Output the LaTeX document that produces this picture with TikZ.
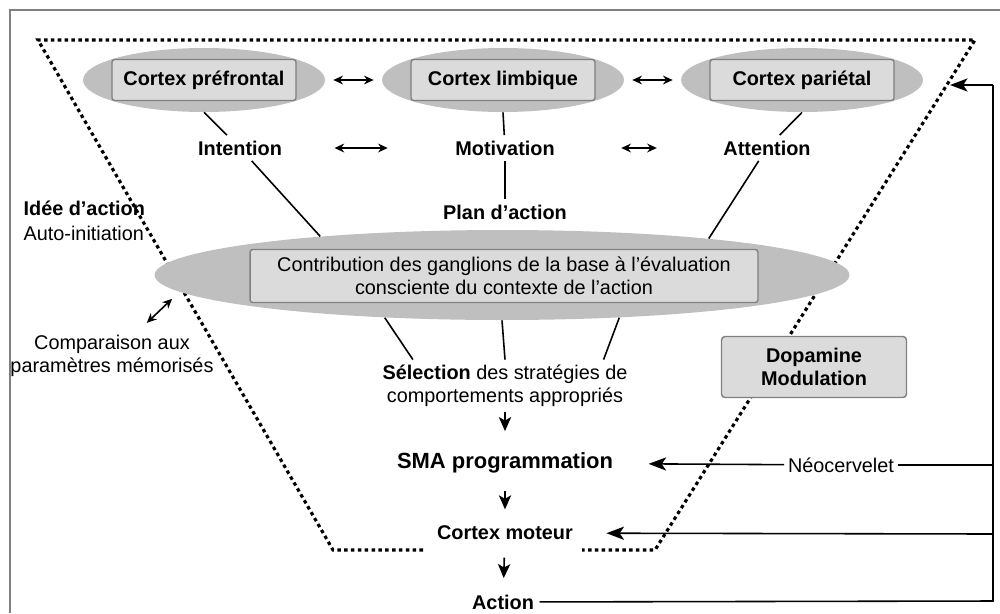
\documentclass[tikz,border=0pt]{standalone}
\usepackage{fontspec}
\setmainfont{Liberation Sans}
\usetikzlibrary{shapes.geometric,arrows.meta,positioning}

\newcommand{\basefont}{\fontsize{11.3}{13}\selectfont}
\tikzset{
  blob/.style={ellipse, fill=gray!50, inner sep=0pt},
  cortexbox/.style={draw=gray, fill=gray!28, inner sep=0pt, line width=0.8pt, rounded corners=1.5pt},
  lbl/.style={font=\basefont\bfseries, inner sep=3pt},
  txt/.style={font=\basefont, align=center, inner sep=3pt},
  link/.style={line width=0.9pt},
  flow/.style={line width=0.9pt, -{Stealth[length=10pt,width=7.5pt,inset=2.5pt]}},
  descend/.style={line width=0.9pt, -{Stealth[length=8pt,width=7pt,inset=2pt]}, shorten <=0.24cm, shorten >=0.22cm},
  twoway/.style={line width=0.9pt, {Stealth[length=5.5pt,width=5pt]}-{Stealth[length=5.5pt,width=5pt]}},
  frontier/.style={line width=1.8pt, dash pattern=on 2pt off 1.9pt},
}

\begin{document}
\begin{tikzpicture}[x=0.02cm, y=-0.02cm, font=\basefont]
  \useasboundingbox (0,0) rectangle (1000,613);
  % cadre
  \draw[gray, line width=1pt] (10,613) -- (10,10) -- (1000,10);
  % limite pointillee
  \draw[frontier] (423,550) -- (333,550) -- (38,40) -- (975,40) -- (655,550) -- (582,550);

  % aires corticales
  \foreach \x/\name/\txt in {204/pf/Cortex préfrontal, 503/lb/Cortex limbique, 802/pa/Cortex pariétal} {
    \node[blob, minimum width=4.84cm, minimum height=1.28cm] (e\name) at (\x,80) {};
    \node[cortexbox, font=\basefont\bfseries, minimum width=3.68cm, minimum height=0.82cm] (\name) at (\x,80) {\txt};
  }
  \draw[twoway, shorten <=0.16cm, shorten >=0.16cm] (epf) -- (elb);
  \draw[twoway, shorten <=0.16cm, shorten >=0.16cm] (elb) -- (epa);

  \node[lbl] (int) at (240,148) {Intention};
  \node[lbl] (mot) at (505,148) {Motivation};
  \node[lbl] (att) at (767,148) {Attention};
  \draw[twoway, shorten <=0.94cm, shorten >=1.24cm] (int) -- (mot);
  \draw[twoway, shorten <=1.22cm, shorten >=1.22cm] (mot) -- (att);

  \node[lbl] (plan) at (505,212) {Plan d’action};

  % ganglions de la base
  \node[blob, minimum width=13.9cm, minimum height=1.8cm] (bge) at (502,275) {};
  \node[cortexbox, align=center, minimum width=10.16cm, minimum height=1.06cm] (contrib) at (504,276)
    {Contribution des ganglions de la base à l’évaluation\\consciente du contexte de l’action};

  \draw[link] (epf.south) -- (int);
  \draw[link] (int) -- (bge.168);
  \draw[link] (elb.south) -- (mot);
  \draw[link] (mot) -- (plan);
  \draw[link] (epa.south) -- (att);
  \draw[link] (att) -- (bge.10);

  % partie gauche
  \node[lbl, anchor=west] (idee) at (18,208) {Idée d’action};
  \node[txt, anchor=west] (auto) at (18,233) {Auto-initiation};
  \node[txt] (comp) at (112,356) {Comparaison aux\\paramètres mémorisés};
  \draw[twoway, shorten <=0.2cm, shorten >=0.2cm] (comp) -- (bge.183);

  % selection et sortie motrice
  \node[txt] (sel) at (505,386) {\textbf{Sélection} des stratégies de\\comportements appropriés};
  \draw[link] (bge.200) -- (sel.164);
  \draw[link] (bge.south) -- (sel.north);
  \draw[link] (bge.-20) -- (sel.15);

  \node[lbl, font=\fontsize{12.5}{14}\selectfont\bfseries] (sma) at (505,463) {SMA programmation};
  \node[lbl] (cm) at (505,533) {Cortex moteur};
  \node[lbl] (act) at (503,602) {Action};
  \draw[descend, shorten <=0cm, shorten >=0.32cm] (sel) -- (sma);
  \draw[descend] (sma) -- (cm);
  \draw[descend] (cm) -- (act);

  \node[cortexbox, font=\basefont\bfseries, align=center, rounded corners=2pt, minimum width=3.7cm, minimum height=1.22cm] (dopa) at (814,367) {Dopamine\\Modulation};

  % boucle de retour
  \node[txt, inner sep=2pt] (neo) at (841,465) {Néocervelet};
  \coordinate (fbA) at (993,601);
  \coordinate (fbN) at (993,465);
  \coordinate (fbC) at (993,534);
  \coordinate (fbT) at (993,85);
  \coordinate (tipPa) at (950,85);
  \draw[link] (act) -- (fbA) -- (fbT);
  \draw[flow] (fbT) -- (tipPa);
  \draw[link] (fbN) -- (neo);
  \draw[flow, shorten >=0.6cm] (neo) -- (sma);
  \draw[flow, shorten >=0.56cm] (fbC) -- (cm);
\end{tikzpicture}
\end{document}
